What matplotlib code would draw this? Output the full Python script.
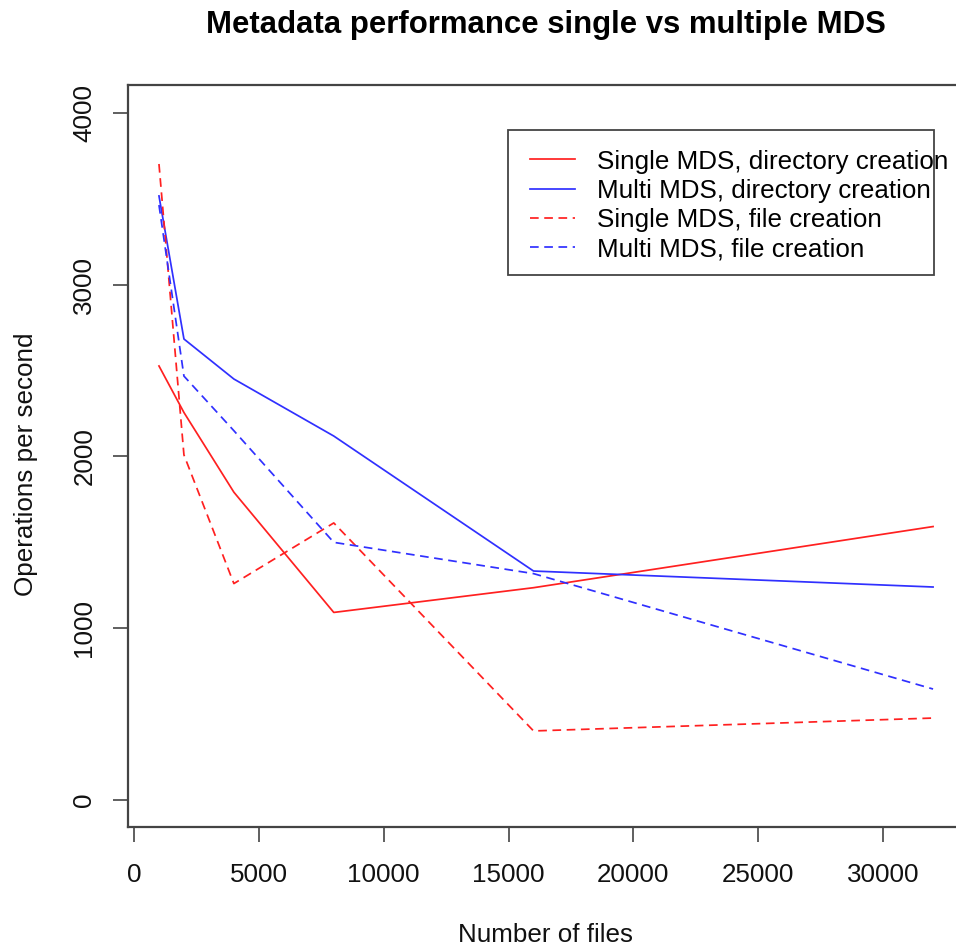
import matplotlib
matplotlib.use('Agg')
import matplotlib.pyplot as plt
from matplotlib.patches import Rectangle

# values
files = [1000, 2000, 4000, 8000, 16000, 32000]
single_dir = [2527, 2256, 1792, 1092, 1236, 1592]
multi_dir = [3517, 2684, 2451, 2119, 1333, 1240]
single_file = [3703, 2009, 1260, 1613, 402, 477]
multi_file = [3464, 2468, 2150, 1500, 1318, 646]

labels = ['Single MDS, directory creation', 'Multi MDS, directory creation',
          'Single MDS, file creation', 'Multi MDS, file creation']
xticks = [0, 5000, 10000, 15000, 20000, 25000, 30000]
yticks = [0, 1000, 2000, 3000, 4000]

plt.rcParams['font.family'] = ['Liberation Sans', 'DejaVu Sans']
fs = 18.7

red = '#ff2020'
blue = '#3030ff'
dash = (0, (5.0, 3.2))

fig = plt.figure(figsize=(9.56, 9.51), dpi=100)
# plot region runs past the right edge of the picture, like the cropped R plot
ax = fig.add_axes([0.1339, 0.1299, 0.8745, 0.7802])

ax.plot(files, single_dir, color=red, lw=1.25, label=labels[0])
ax.plot(files, multi_dir, color=blue, lw=1.25, label=labels[1])
ax.plot(files, single_file, color=red, lw=1.25, linestyle=dash, label=labels[2])
ax.plot(files, multi_file, color=blue, lw=1.25, linestyle=dash, label=labels[3])

ax.set_xlim(-240, 33240)
ax.set_ylim(-160, 4160)
ax.set_xticks(xticks)
ax.set_yticks(yticks)
ax.set_xticklabels([str(t) for t in xticks])
ax.set_yticklabels([str(t) for t in yticks])

for s in ax.spines.values():
    s.set_color('#444444')
    s.set_linewidth(1.6)
ax.tick_params(axis='both', direction='out', length=10.8, width=1.2,
               color='#444444', labelsize=fs, labelcolor='#111111')
ax.tick_params(axis='x', pad=15)
ax.tick_params(axis='y', pad=12)
for lab in ax.get_yticklabels():
    lab.set_rotation(90)
    lab.set_va('center')

ax.set_xlabel('Number of files', fontsize=fs, color='#111111')
ax.xaxis.set_label_coords(0.4988, -0.1294)
ax.set_ylabel('Operations per second', fontsize=fs, color='#111111')
ax.yaxis.set_label_coords(-0.108, 0.49)

ax.set_title('Metadata performance single vs multiple MDS', fontsize=22.4,
             fontweight='bold', y=1.0708, va='baseline', pad=0)

# R style legend: frame drawn separately so text can run over it
ax.add_patch(Rectangle((0.4545, 0.7446), 0.5096, 0.1954, transform=ax.transAxes,
                       fill=False, edgecolor='#444444', lw=1.3, zorder=5))
ax.legend(loc='upper left', bbox_to_anchor=(0.4809, 0.9137), frameon=False,
          borderpad=0, borderaxespad=0, handlelength=1.73, handletextpad=0.85,
          labelspacing=0.2, fontsize=fs)

plt.savefig('out.png', dpi=100)
